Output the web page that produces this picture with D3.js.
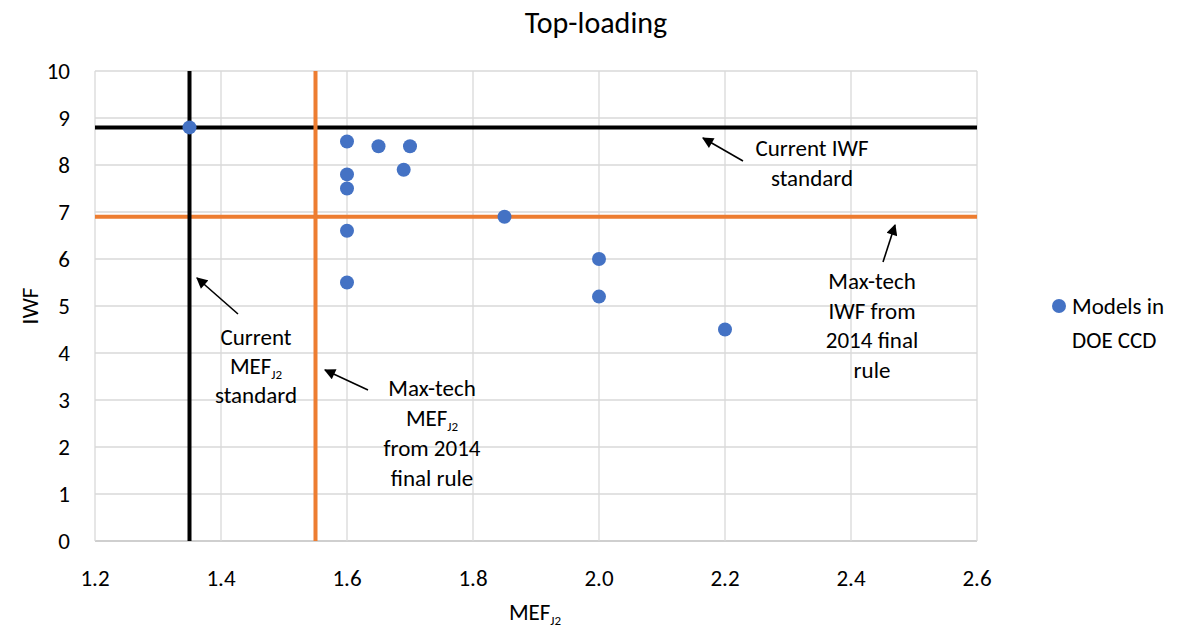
<!DOCTYPE html>
<html>
<head>
<meta charset="utf-8">
<script src="https://cdn.jsdelivr.net/npm/d3@7"></script>
<style>
  body { margin: 0; background: #fff; }
  svg text { font-family: Carlito, "Open Sans", "Liberation Sans", sans-serif; fill: #000; }
</style>
</head>
<body>
<svg id="chart" width="1186" height="635"></svg>
<script>
// ── Data ───────────────────────────────────────────────────
const mefValues = [1.35, 1.6, 1.65, 1.7, 1.69, 1.6, 1.6, 1.85, 1.6, 1.6, 2.0, 2.0, 2.2];
const iwfValues = [8.8, 8.5, 8.4, 8.4, 7.9, 7.8, 7.5, 6.9, 6.6, 5.5, 6.0, 5.2, 4.5];
const xTicks = [1.2, 1.4, 1.6, 1.8, 2.0, 2.2, 2.4, 2.6];
const yTicks = [0, 1, 2, 3, 4, 5, 6, 7, 8, 9, 10];
const currentMef = 1.35, maxTechMef = 1.55;
const currentIwf = 8.8, maxTechIwf = 6.9;

const BLUE = '#4472C4', ORANGE = '#ED7D31', GRID = '#d9d9d9';
const FS = 23;   // annotation / label font size

const svg = d3.select('#chart');
const x = d3.scaleLinear().domain([1.2, 2.6]).range([95, 977]);
const y = d3.scaleLinear().domain([0, 10]).range([541, 71]);

// arrow marker
svg.append('defs').append('marker')
  .attr('id', 'arrow').attr('viewBox', '0 0 10 10')
  .attr('refX', 9).attr('refY', 5)
  .attr('markerWidth', 8).attr('markerHeight', 7)
  .attr('markerUnits', 'strokeWidth')
  .attr('orient', 'auto')
  .append('path').attr('d', 'M0,0 L10,5 L0,10 z').attr('fill', '#000');

// ── Grid ───────────────────────────────────────────────────
svg.append('g').selectAll('line.gy').data(yTicks).enter().append('line')
  .attr('x1', x(1.2)).attr('x2', x(2.6))
  .attr('y1', d => y(d)).attr('y2', d => y(d))
  .attr('stroke', d => d === 0 ? '#bfbfbf' : GRID).attr('stroke-width', 1.3);
svg.append('g').selectAll('line.gx').data(xTicks).enter().append('line')
  .attr('x1', d => x(d)).attr('x2', d => x(d))
  .attr('y1', y(0)).attr('y2', y(10))
  .attr('stroke', GRID).attr('stroke-width', 1.3);

// tick labels
svg.append('g').selectAll('text').data(xTicks).enter().append('text')
  .attr('x', d => x(d)).attr('y', 578).attr('dy', '0.35em')
  .attr('text-anchor', 'middle').attr('font-size', 23)
  .text(d => d.toFixed(1));
svg.append('g').selectAll('text').data(yTicks).enter().append('text')
  .attr('x', 70).attr('y', d => y(d)).attr('dy', '0.35em')
  .attr('text-anchor', 'end').attr('font-size', 23)
  .text(d => d);

// ── Reference lines ────────────────────────────────────────
const refs = svg.append('g');
refs.append('line').attr('x1', x(1.2)).attr('x2', x(2.6))
  .attr('y1', y(maxTechIwf)).attr('y2', y(maxTechIwf))
  .attr('stroke', ORANGE).attr('stroke-width', 4);
refs.append('line').attr('x1', x(1.2)).attr('x2', x(2.6))
  .attr('y1', y(currentIwf)).attr('y2', y(currentIwf))
  .attr('stroke', '#000').attr('stroke-width', 4);
refs.append('line').attr('x1', x(currentMef)).attr('x2', x(currentMef))
  .attr('y1', y(0)).attr('y2', y(10))
  .attr('stroke', '#000').attr('stroke-width', 4);
refs.append('line').attr('x1', x(maxTechMef)).attr('x2', x(maxTechMef))
  .attr('y1', y(0)).attr('y2', y(10))
  .attr('stroke', ORANGE).attr('stroke-width', 4);

// ── Points ─────────────────────────────────────────────────
svg.append('g').selectAll('circle').data(mefValues).enter().append('circle')
  .attr('cx', d => x(d)).attr('cy', (d, i) => y(iwfValues[i]))
  .attr('r', 7).attr('fill', BLUE);

// ── Annotations ────────────────────────────────────────────
function label(lines, cx, cy0, step) {
  lines.forEach((ln, i) => {
    const t = svg.append('text').attr('x', cx).attr('y', cy0 + i * step)
      .attr('dy', '0.35em').attr('text-anchor', 'middle').attr('font-size', FS);
    if (Array.isArray(ln)) {
      t.append('tspan').text(ln[0]);
      t.append('tspan').attr('font-size', 13).attr('dy', 5).text(ln[1]);
    } else {
      t.text(ln);
    }
  });
}
function arrow(x1, y1, x2, y2) {
  svg.append('line').attr('x1', x1).attr('y1', y1).attr('x2', x2).attr('y2', y2)
    .attr('stroke', '#000').attr('stroke-width', 1.6)
    .attr('marker-end', 'url(#arrow)');
}

label(['Current IWF', 'standard'], 812, 148, 30);
arrow(743, 161, 703, 138);

label(['Max-tech', 'IWF from', '2014 final', 'rule'], 872, 281, 29.5);
arrow(883, 262, 895, 225);

label(['Current', ['MEF', 'J2'], 'standard'], 256, 337, 29);
arrow(238, 314, 197, 278);

label(['Max-tech', ['MEF', 'J2'], 'from 2014', 'final rule'], 432, 388, 30);
arrow(368, 390, 325, 370);

// ── Titles ─────────────────────────────────────────────────
svg.append('text').attr('x', 596).attr('y', 22).attr('dy', '0.35em')
  .attr('text-anchor', 'middle').attr('font-size', 30).text('Top-loading');

const xl = svg.append('text').attr('x', 535).attr('y', 612).attr('dy', '0.35em')
  .attr('text-anchor', 'middle').attr('font-size', FS);
xl.append('tspan').text('MEF');
xl.append('tspan').attr('font-size', 13).attr('dy', 5).text('J2');

svg.append('text').attr('transform', 'translate(30,306) rotate(-90)')
  .attr('dy', '0.35em').attr('text-anchor', 'middle').attr('font-size', FS).text('IWF');

// ── Legend ─────────────────────────────────────────────────
svg.append('circle').attr('cx', 1059).attr('cy', 306).attr('r', 7).attr('fill', BLUE);
svg.append('text').attr('x', 1072).attr('y', 306).attr('dy', '0.35em')
  .attr('font-size', FS).text('Models in');
svg.append('text').attr('x', 1072).attr('y', 340).attr('dy', '0.35em')
  .attr('font-size', FS).text('DOE CCD');
</script>
</body>
</html>
